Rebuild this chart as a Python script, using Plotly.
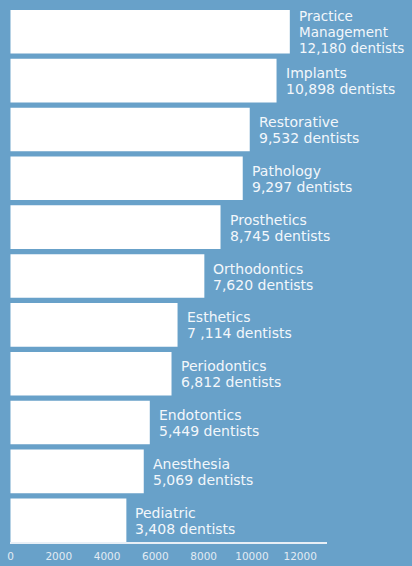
import plotly.graph_objects as go

# Data
categories = ["Practice Management", "Implants", "Restorative", "Pathology",
              "Prosthetics", "Orthodontics", "Esthetics", "Periodontics",
              "Endotontics", "Anesthesia", "Pediatric"]
# bar lengths as drawn against the x axis
bar_lengths = [11570, 11020, 9910, 9620, 8700, 8030, 6920, 6670, 5770, 5520, 4800]
# counts printed in the labels
count_labels = ["12,180", "10,898", "9,532", "9,297", "8,745", "7,620",
                "7 ,114", "6,812", "5,449", "5,069", "3,408"]
tick_values = [0, 2000, 4000, 6000, 8000, 10000, 12000]
tick_labels = ["0", "2000", "4000", "6000", "8000", "10000", "12000"]

BG = "#68a1c9"
TEXT = "#f3f7fb"
FONT = "DejaVu Sans"

fig = go.Figure()
fig.add_trace(go.Bar(
    x=bar_lengths, y=categories, orientation="h",
    marker=dict(color="#ffffff", line=dict(width=0)),
    hoverinfo="skip",
))

LINE = 16
annotations = []
for cat, val, cnt in zip(categories, bar_lengths, count_labels):
    lines = cat.split(" ") + [cnt + " dentists"]
    n = len(lines)
    for i, txt in enumerate(lines):
        off = (i - (n - 1) / 2) * LINE + 0.5
        annotations.append(dict(
            x=val, y=cat, xref="x", yref="y", text=txt, showarrow=False,
            xanchor="left", yanchor="middle", xshift=7, yshift=-off,
            font=dict(family=FONT, size=14 if n < 3 else 13.5, color=TEXT),
        ))

n = len(categories)
half = 0.446
fig.update_layout(
    width=412, height=566,
    paper_bgcolor=BG, plot_bgcolor=BG,
    margin=dict(l=10, r=85, t=10, b=24),
    bargap=0.108,
    showlegend=False,
    annotations=annotations,
    xaxis=dict(
        range=[-20, 13110], tickvals=tick_values, ticktext=tick_labels,
        showgrid=False, zeroline=False, showline=True,
        linecolor="#e8eff6", linewidth=2, ticks="",
        ticklabelstandoff=3, automargin=False,
        tickfont=dict(family=FONT, size=10.5, color="#e2ebf3"),
        fixedrange=True,
    ),
    yaxis=dict(
        categoryorder="array", categoryarray=categories,
        range=[n - 1 + half, -half], automargin=False,
        showticklabels=False, showgrid=False, zeroline=False,
        showline=False, ticks="", fixedrange=True,
    ),
)

fig.write_html("out.html", config={"displayModeBar": False})

# remove the default page margin so the figure sits at the window's corner
with open("out.html", "r", encoding="utf-8") as f:
    html = f.read()
html = html.replace("<head>", "<head><style>html,body{margin:0;padding:0;overflow:hidden;background:%s;}</style>" % BG, 1)
with open("out.html", "w", encoding="utf-8") as f:
    f.write(html)
